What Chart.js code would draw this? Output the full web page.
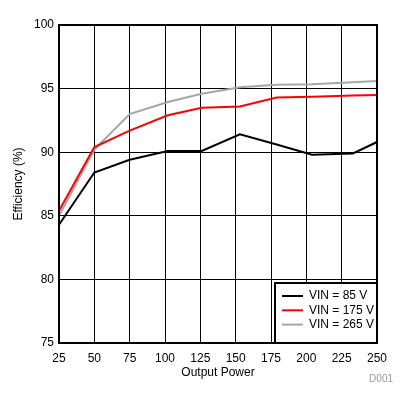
<!DOCTYPE html>
<html lang="en">
<head>
    <meta charset="UTF-8">
    <title>Efficiency vs Output Power</title>
    <script src="https://cdn.jsdelivr.net/npm/chart.js"></script>
    <style>
        html, body {
            margin: 0;
            padding: 0;
            background-color: #fff;
        }
        #grafico {
            display: block;
        }
    </style>
</head>
<body>
    <canvas id="grafico" width="410" height="405"></canvas>

    <script>
        // dati
        const potenza = [25, 50, 75, 102, 126, 153, 179, 204, 233, 250];
        const vin85 = [84.3, 88.4, 89.4, 90.1, 90.1, 91.4, 90.6, 89.8, 89.9, 90.8];
        const vin175 = [85.4, 90.4, 91.7, 92.9, 93.5, 93.6, 94.3, 94.35, 94.45, 94.5];
        const vin265 = [85.0, 90.2, 93.0, 93.95, 94.6, 95.1, 95.3, 95.35, 95.5, 95.6];
        const etichette = ['VIN = 85 V', 'VIN = 175 V', 'VIN = 265 V'];
        const colori = ['#000000', '#ff0000', '#a6a6a6'];

        const FONT = "'Liberation Sans', Arial, sans-serif";

        function punti(valori) {
            return potenza.map((p, i) => ({ x: p, y: valori[i] }));
        }

        // cornice, legenda e codice figura
        const decorazioni = {
            id: 'decorazioni',
            afterDatasetsDraw(chart) {
                const ctx = chart.ctx;
                const area = chart.chartArea;
                ctx.save();
                ctx.strokeStyle = '#000';
                ctx.lineWidth = 2;
                ctx.strokeRect(area.left, area.top, area.right - area.left, area.bottom - area.top);

                // legenda
                const w = 102, h = 60;
                const bx = area.right - w, by = area.bottom - h;
                ctx.fillStyle = '#fff';
                ctx.fillRect(bx, by, w, h);
                ctx.strokeRect(bx, by, w, h);
                ctx.font = '12px ' + FONT;
                ctx.textBaseline = 'middle';
                ctx.textAlign = 'left';
                chart.data.datasets.forEach((ds, i) => {
                    const y = by + 13 + i * 14.3;
                    ctx.strokeStyle = ds.borderColor;
                    ctx.lineWidth = 2;
                    ctx.beginPath();
                    ctx.moveTo(bx + 7, y);
                    ctx.lineTo(bx + 28, y);
                    ctx.stroke();
                    ctx.fillStyle = '#000';
                    ctx.fillText(ds.label, bx + 34, y);
                });

                ctx.fillStyle = '#999';
                ctx.font = '10px ' + FONT;
                ctx.textAlign = 'right';
                ctx.fillText('D001', 393, 379);
                ctx.restore();
            }
        };

        const ctx = document.getElementById('grafico').getContext('2d');
        new Chart(ctx, {
            type: 'line',
            data: {
                datasets: [vin85, vin175, vin265].map((v, i) => ({
                    label: etichette[i],
                    data: punti(v),
                    borderColor: colori[i],
                    backgroundColor: colori[i],
                    borderWidth: 2,
                    pointRadius: 0,
                    fill: false,
                    tension: 0
                }))
            },
            options: {
                responsive: false,
                animation: false,
                layout: {
                    padding: { left: 6, top: 25, right: 33, bottom: 25 }
                },
                plugins: {
                    legend: { display: false },
                    tooltip: { enabled: false }
                },
                scales: {
                    x: {
                        type: 'linear',
                        min: 25,
                        max: 250,
                        afterFit: s => { s.height = 37; },
                        ticks: {
                            stepSize: 25,
                            color: '#000',
                            padding: 8,
                            maxRotation: 0,
                            font: { family: FONT, size: 12 }
                        },
                        grid: { color: '#000', lineWidth: 1, drawTicks: false },
                        border: { display: false },
                        title: {
                            display: true,
                            text: 'Output Power',
                            color: '#000',
                            padding: { top: 0, bottom: 0 },
                            font: { family: FONT, size: 12 }
                        }
                    },
                    y: {
                        min: 75,
                        max: 100,
                        afterFit: s => { s.width = 53; },
                        ticks: {
                            stepSize: 5,
                            color: '#000',
                            padding: 5,
                            font: { family: FONT, size: 12 }
                        },
                        grid: { color: '#000', lineWidth: 1, drawTicks: false },
                        border: { display: false },
                        title: {
                            display: true,
                            text: 'Efficiency (%)',
                            color: '#000',
                            padding: { top: 5, bottom: 0 },
                            font: { family: FONT, size: 12 }
                        }
                    }
                }
            },
            plugins: [decorazioni]
        });
    </script>
</body>
</html>
